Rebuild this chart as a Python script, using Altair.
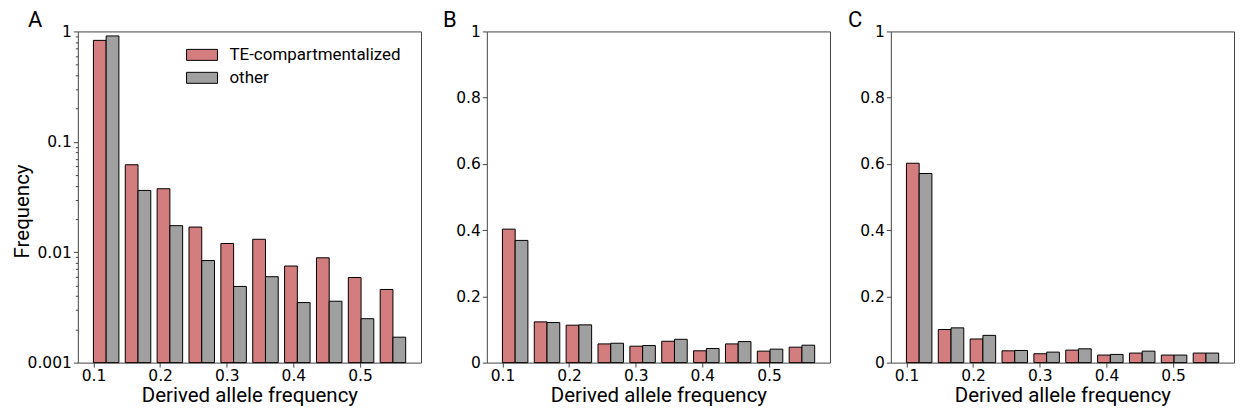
import altair as alt
import pandas as pd

# ---- data ----
series_names = ["TE-compartmentalized", "other"]
series_colors = ["#d47d7e", "#a0a0a0"]
bin_edges = [0.0952, 0.1430, 0.1908, 0.2386, 0.2864, 0.3342,
             0.3820, 0.4298, 0.4776, 0.5254, 0.5732]
x_ticks = [0.1, 0.2, 0.3, 0.4, 0.5]

a_te = [0.83, 0.062, 0.0376, 0.0169, 0.0120, 0.0131, 0.0075, 0.0089, 0.0059, 0.0046]
a_other = [0.91, 0.0363, 0.0174, 0.0084, 0.0049, 0.0060, 0.0035, 0.0036, 0.0025, 0.0017]

b_te = [0.403, 0.123, 0.113, 0.0565, 0.0496, 0.0645, 0.0357, 0.0565, 0.0347, 0.0466]
b_other = [0.369, 0.121, 0.114, 0.0585, 0.0516, 0.0704, 0.0426, 0.0635, 0.0407, 0.0526]

c_te = [0.602, 0.100, 0.0714, 0.0357, 0.0268, 0.0377, 0.0228, 0.0288, 0.0228, 0.0288]
c_other = [0.571, 0.105, 0.0823, 0.0367, 0.0317, 0.0417, 0.0248, 0.0347, 0.0228, 0.0288]

log_ticks = [m * k for m in [0.001, 0.01, 0.1] for k in range(1, 10)] + [1]
lin_ticks = [0, 0.2, 0.4, 0.6, 0.8, 1]


def make_df(te, other, base):
    rows = []
    for i in range(len(te)):
        w = bin_edges[i + 1] - bin_edges[i]
        left = bin_edges[i] + 0.1 * w
        bw = 0.4 * w
        rows.append(dict(series=series_names[0], x0=left, x1=left + bw, value=te[i], base=base))
        rows.append(dict(series=series_names[1], x0=left + bw, x1=left + 2 * bw, value=other[i], base=base))
    return pd.DataFrame(rows)


W, H = 344, 332
AX = "#444444"
TICK_FONT = "DejaVu Sans"
TXT_FONT = "Roboto"
TICK_FS = 15.5
TITLE_FS = 20.5

decade_test = "abs(log(datum.value)/LN10 - round(log(datum.value)/LN10)) < 1e-6"


def panel(df, letter, dx, log, legend, ytitle):
    if log:
        yscale = alt.Scale(type="log", domain=[0.001, 1], nice=False)
        yaxis = alt.Axis(
            values=log_ticks,
            labelExpr=f"({decade_test}) ? format(datum.value, '~g') : ''",
            tickSize={"condition": {"test": decade_test, "value": 4.5}, "value": 2.5},
            title=ytitle, grid=False, domain=False, tickColor=AX,
            labelFont=TICK_FONT, labelFontSize=TICK_FS, labelColor="black", labelPadding=2,
            titleFont=TXT_FONT, titleFontSize=TITLE_FS, titleFontWeight="normal",
            titleColor="black", titleX=-45, titleY=180, titleBaseline="bottom",
        )
    else:
        yscale = alt.Scale(domain=[0, 1], nice=False)
        yaxis = alt.Axis(
            values=lin_ticks, format="~g", tickSize=4.5,
            title=None, grid=False, domain=False, tickColor=AX,
            labelFont=TICK_FONT, labelFontSize=TICK_FS, labelColor="black", labelPadding=2,
        )
    xaxis = alt.Axis(
        values=x_ticks, format=".1f", tickSize=4.5, grid=False, domain=False,
        tickColor=AX, labelFont=TICK_FONT, labelFontSize=TICK_FS, labelColor="black",
        labelPadding=1, title="Derived allele frequency", titleFont=TXT_FONT,
        titleFontSize=TITLE_FS, titleFontWeight="normal", titleColor="black", titlePadding=2,
    )
    if legend:
        leg = alt.Legend(
            orient="none", legendX=116, legendY=15, title=None,
            symbolType="M-2.82,-1L2.82,-1L2.82,1L-2.82,1Z", symbolSize=121,
            symbolStrokeColor="black", symbolStrokeWidth=1, symbolOpacity=1,
            labelFont=TXT_FONT, labelFontSize=17, labelColor="black", labelLimit=0,
            labelOffset=19, rowPadding=5, padding=0,
        )
    else:
        leg = None
    return alt.Chart(df).mark_bar(stroke="black", strokeWidth=1, opacity=1).encode(
        x=alt.X("x0:Q", scale=alt.Scale(domain=[0.0766, 0.5914], nice=False, zero=False), axis=xaxis),
        x2="x1:Q",
        y=alt.Y("value:Q", scale=yscale, axis=yaxis),
        y2="base:Q",
        color=alt.Color("series:N", scale=alt.Scale(domain=series_names, range=series_colors),
                        legend=leg, sort=series_names),
    ).properties(
        width=W, height=H,
        title=alt.TitleParams(letter, anchor="start", frame="group", dx=dx, fontSize=22,
                              font=TXT_FONT, fontWeight="normal", color="black", offset=-8),
    )


pa = panel(make_df(a_te, a_other, 0.001), "A", -50, True, True, "Frequency")
pb = panel(make_df(b_te, b_other, 0), "B", -44, False, False, None)
pc = panel(make_df(c_te, c_other, 0), "C", -43, False, False, None)

bc = alt.hconcat(pb, pc, spacing=16)
chart = alt.hconcat(pa, bc, spacing=20).resolve_legend(color="independent").configure_view(
    stroke=AX, strokeWidth=1
).properties(padding={"left": 4, "top": 0, "right": 0, "bottom": 0})

chart.save("out.html", embed_options={"renderer": "svg", "actions": False})
